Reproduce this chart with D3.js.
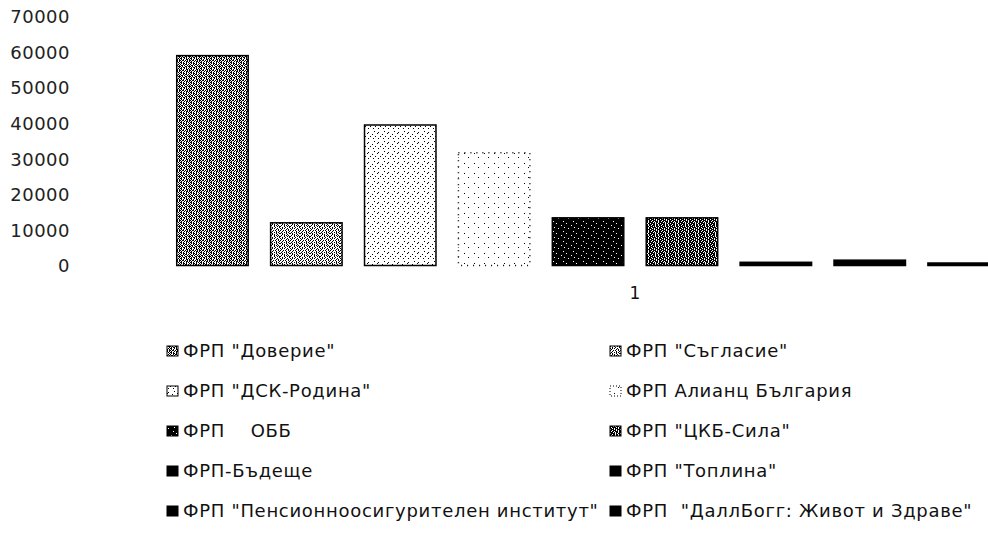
<!DOCTYPE html>
<html><head><meta charset="utf-8">
<script src="https://cdn.jsdelivr.net/npm/d3@7"></script>
<style>
html,body{margin:0;padding:0;background:#fff;}
svg{display:block;}
text{font-family:"DejaVu Sans",sans-serif;}
</style></head>
<body>
<script>
// ---- data ----
const categories = ["1"];
const seriesNames = [
  'ФРП "Доверие"',
  'ФРП "Съгласие"',
  'ФРП "ДСК-Родина"',
  'ФРП Алианц България',
  'ФРП    ОББ',
  'ФРП "ЦКБ-Сила"',
  'ФРП-Бъдеще',
  'ФРП "Топлина"',
  'ФРП "Пенсионноосигурителен институт"',
  'ФРП  "ДаллБогг: Живот и Здраве"'
];
const seriesValues = [59000, 12000, 39500, 31700, 13400, 13400, 900, 1500, 700, 600];
const yTicks = [0, 10000, 20000, 30000, 40000, 50000, 60000, 70000];

// ---- layout ----
const W = 988, H = 538;
const svg = d3.select("body").append("svg").attr("width", W).attr("height", H);
const defs = svg.append("defs");

// texture tiles (10x10), '#' = dark pixel
const tiles = [
  ["#.##.#.#.#",".#..#.##.#","##.#..#.#.",".#.##.#..#","#..#.##.#.",".##.#..#.#","#.#..##.##",".#.##.#..#","##..#.#.#.",".#.#..##.#"],
  ["#..#.#..#.","..#...#..#",".#..#.#.#.","#.#...#..#","..#.#..#..",".#..#.#.#.","#...#..#.#","..#..#...#","#.#.#..#..",".#....#.#."],
  [".........."," ...#.....","........#.",".......#..","..#.......","..........","#....#....","..........","...#....#.",".........."],
  ["..........","..........","..........","....#.....","..........","..........","..........","........#.","..........",".........."],
  ["##########","###.######","##########","######.###","##########","#.########","##########","####.#####","########.#","##########"],
  ["##.###.#.#","#.##.###.#","###.#.##.#",".####.#.##","##.##.##.#","#.###.##.#","###.#.###.","#.####.#.#","##.#.###.#",".###.#.###"],
  null, null, null, null
];
tiles.forEach((t, i) => {
  if (!t) return;
  const n = t.length;
  const p = defs.append("pattern").attr("id", "pat" + i)
    .attr("patternUnits", "userSpaceOnUse").attr("width", n).attr("height", n);
  p.append("rect").attr("width", n).attr("height", n).attr("fill", "#fff");
  t.forEach((row, yy) => row.split("").forEach((c, xx) => {
    if (c === "#") p.append("rect").attr("x", xx).attr("y", yy).attr("width", 1).attr("height", 1).attr("fill", "#000");
  }));
});
const fillOf = i => tiles[i] ? `url(#pat${i})` : "#000";
const strokeDash = i => i === 3 ? "1,5" : null;

const y = d3.scaleLinear().domain([0, 70000]).range([265.5, 16.5]);
const x0 = d3.scaleBand().domain(categories).range([165.5, 1104.5]).padding(0);
const x1 = d3.scaleBand().domain(d3.range(seriesNames.length)).range([0, x0.bandwidth()])
  .paddingInner(0.223).paddingOuter(0.1115);

// y axis (labels only)
const yAxis = d3.axisLeft(y).tickValues(yTicks).tickSize(0).tickPadding(0).tickFormat(d3.format("d"));
const gy = svg.append("g").attr("transform", "translate(70,0)").call(yAxis);
gy.select(".domain").remove();
gy.selectAll("text").attr("font-size", 18).attr("fill", "#222")
  .attr("letter-spacing", 0.5)
  .attr("font-family", "DejaVu Sans, sans-serif").attr("dy", "0.35em");

// bars
const g = svg.append("g");
categories.forEach(cat => {
  seriesValues.forEach((v, i) => {
    g.append("rect")
      .attr("x", x0(cat) + x1(i) + 0.75)
      .attr("y", y(v))
      .attr("width", x1.bandwidth() - 1.5)
      .attr("height", y(0) - y(v))
      .attr("fill", fillOf(i))
      .attr("stroke", "#000")
      .attr("stroke-width", 1.5)
      .attr("stroke-dasharray", strokeDash(i));
  });
});

// x axis (label only)
const xAxis = d3.axisBottom(x0).tickSize(0).tickPadding(0);
const gx = svg.append("g").attr("transform", "translate(0,287)").call(xAxis);
gx.select(".domain").remove();
gx.selectAll("text").attr("font-size", 17).attr("fill", "#111")
  .attr("font-family", "DejaVu Sans, sans-serif");

// legend
const colX = [167, 610], rowY0 = 351, rowStep = 40;
const lg = svg.append("g");
seriesNames.forEach((name, i) => {
  const cx = colX[i % 2], cy = rowY0 + Math.floor(i / 2) * rowStep;
  lg.append("rect").attr("x", cx).attr("y", cy - 5).attr("width", 11).attr("height", 10)
    .attr("fill", fillOf(i)).attr("stroke", "#000").attr("stroke-width", 1)
    .attr("stroke-dasharray", strokeDash(i) ? "1,2" : null);
  lg.append("text").attr("x", cx + 16).attr("y", cy).attr("dy", "0.35em")
    .attr("font-size", 18).attr("letter-spacing", 0.7).attr("fill", "#111")
    .style("white-space", "pre").text(name);
});
</script>
</body></html>
